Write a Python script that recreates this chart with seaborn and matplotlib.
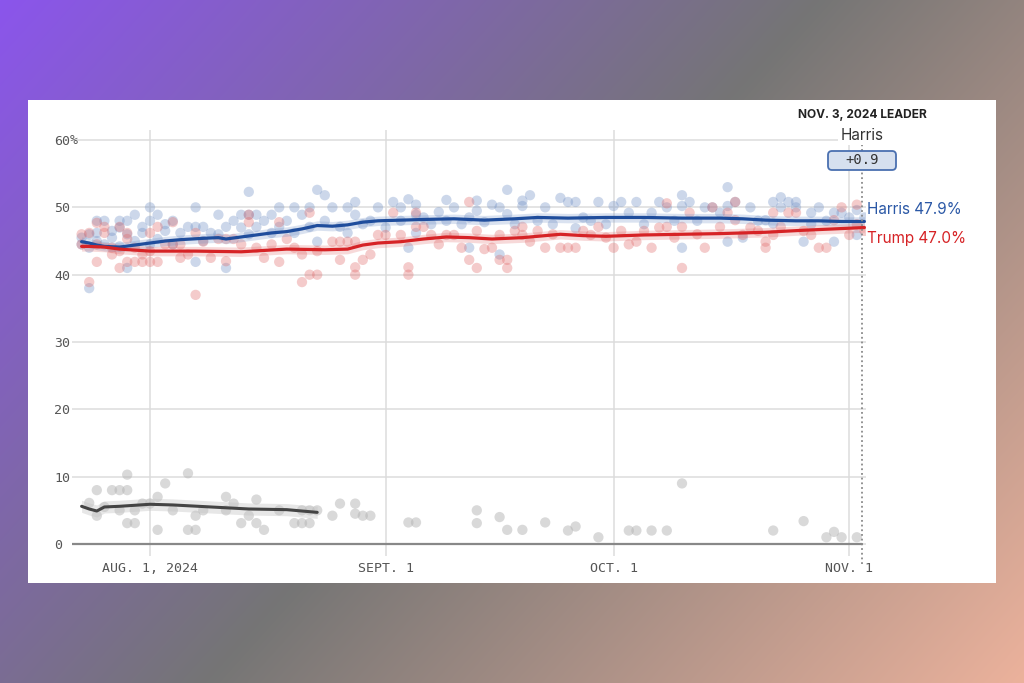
import numpy as np
import pandas as pd
import matplotlib
matplotlib.use("Agg")
import matplotlib.pyplot as plt
import seaborn as sns
from matplotlib.patches import Rectangle, FancyBboxPatch

# ---------------- data (x = days since Aug. 1, 2024) ----------------
harris_polls = [
    (-9, 44.5), (-9, 45.5), (-8, 38.0), (-8, 46.0), (-8, 44.0), (-7, 48.0), (-7, 45.0), (-7, 46.2),
    (-6, 48.0), (-6, 44.5), (-5, 45.5), (-5, 46.5), (-4, 48.0), (-4, 47.0), (-4, 44.2), (-3, 48.0),
    (-3, 41.0), (-3, 46.0), (-2, 48.9), (-2, 45.0), (-1, 47.1), (-1, 46.2), (0, 50.0), (0, 48.0),
    (0, 44.5), (1, 48.9), (1, 45.3), (2, 46.5), (2, 47.5), (3, 48.0), (3, 44.5), (4, 46.2), (5, 47.1),
    (6, 50.0), (6, 47.1), (6, 41.9), (7, 47.1), (7, 45.0), (8, 46.2), (9, 48.9), (9, 46.0), (10, 41.0),
    (10, 47.1), (11, 48.0), (12, 48.9), (12, 47.0), (13, 52.3), (13, 48.9), (13, 46.0), (14, 48.9),
    (14, 47.1), (15, 48.0), (16, 46.2), (16, 48.9), (17, 50.0), (17, 47.1), (18, 48.0), (19, 50.0),
    (19, 46.2), (20, 48.9), (21, 50.0), (21, 47.1), (22, 52.6), (22, 44.9), (23, 51.8), (23, 48.0),
    (24, 50.0), (25, 47.1), (26, 50.0), (26, 46.2), (27, 50.8), (27, 48.9), (28, 47.5), (29, 48.0),
    (30, 50.0), (31, 47.0), (32, 50.8), (33, 50.0), (33, 48.0), (34, 51.2), (34, 44.0), (35, 50.4),
    (35, 48.9), (35, 46.2), (36, 48.5), (37, 47.5), (38, 49.3), (39, 51.1), (39, 48.0), (40, 50.0),
    (41, 47.5), (42, 44.0), (42, 48.5), (43, 51.0), (43, 49.5), (44, 47.8), (45, 50.4), (46, 50.0),
    (46, 43.0), (47, 52.6), (47, 49.0), (48, 47.5), (49, 51.0), (49, 50.2), (50, 51.8), (51, 48.0),
    (52, 50.0), (53, 47.5), (54, 51.4), (55, 50.8), (56, 50.8), (56, 46.9), (57, 48.5), (58, 48.0),
    (59, 50.8), (60, 47.5), (61, 50.2), (62, 50.8), (63, 49.2), (64, 50.8), (65, 47.5), (66, 49.2),
    (67, 50.8), (68, 50.0), (69, 48.0), (70, 51.8), (70, 50.2), (70, 44.0), (71, 50.8), (72, 48.0),
    (73, 50.0), (74, 50.0), (75, 49.2), (76, 53.0), (76, 50.2), (76, 44.9), (77, 50.8), (78, 45.5),
    (79, 50.0), (80, 48.0), (81, 48.1), (82, 50.8), (82, 47.6), (83, 51.5), (83, 50.0), (84, 50.8),
    (85, 50.8), (85, 50.0), (86, 44.9), (87, 49.2), (87, 47.5), (88, 50.0), (89, 48.0), (90, 49.2),
    (90, 44.9), (91, 49.2), (92, 48.5), (93, 49.6), (93, 45.9), (94, 48.5),
]

trump_polls = [
    (-9, 46.0), (-9, 44.5), (-8, 38.9), (-8, 46.2), (-7, 47.7), (-7, 41.9), (-7, 44.5), (-6, 47.1),
    (-6, 46.2), (-5, 44.0), (-5, 43.0), (-4, 41.0), (-4, 47.1), (-4, 43.5), (-3, 46.2), (-3, 45.3),
    (-3, 41.9), (-2, 41.9), (-2, 44.0), (-1, 41.9), (-1, 43.0), (0, 46.2), (0, 41.9), (0, 43.5),
    (1, 47.1), (1, 41.9), (2, 44.5), (3, 47.8), (3, 44.5), (4, 44.5), (4, 42.5), (5, 43.0), (6, 37.0),
    (6, 46.2), (7, 44.9), (8, 42.5), (9, 45.3), (10, 45.3), (10, 42.0), (11, 45.3), (12, 44.5),
    (13, 48.9), (13, 47.8), (14, 44.0), (15, 42.5), (16, 44.5), (17, 47.8), (17, 41.9), (18, 45.3),
    (19, 44.0), (20, 38.9), (20, 43.0), (21, 40.0), (21, 49.2), (22, 40.0), (22, 43.5), (24, 44.9),
    (25, 44.9), (25, 42.2), (26, 44.9), (27, 41.1), (27, 40.0), (27, 44.9), (28, 42.2), (29, 43.0),
    (30, 45.9), (31, 45.9), (32, 49.2), (33, 45.9), (34, 41.1), (34, 40.0), (35, 49.2), (35, 47.1),
    (36, 47.1), (37, 45.9), (38, 44.5), (39, 45.9), (40, 45.9), (41, 44.0), (42, 50.8), (42, 42.2),
    (43, 41.0), (43, 46.5), (44, 43.8), (45, 44.0), (46, 45.9), (46, 42.2), (47, 41.0), (47, 42.2),
    (48, 46.5), (49, 47.1), (49, 45.9), (50, 44.9), (51, 46.5), (52, 44.0), (53, 46.0), (54, 44.0),
    (55, 44.0), (56, 44.0), (57, 46.5), (58, 45.9), (59, 47.1), (60, 45.5), (61, 44.0), (62, 46.5),
    (63, 44.5), (64, 44.9), (65, 46.5), (66, 44.0), (67, 47.0), (68, 50.6), (68, 47.1), (69, 45.5),
    (70, 47.1), (70, 41.0), (71, 49.2), (72, 46.0), (73, 44.0), (74, 50.0), (75, 47.1), (76, 49.2),
    (77, 50.8), (77, 48.1), (78, 45.9), (79, 47.0), (80, 46.5), (81, 44.9), (81, 44.0), (82, 49.2),
    (82, 45.9), (83, 47.1), (84, 49.2), (85, 49.2), (86, 46.5), (87, 45.9), (88, 44.0), (89, 44.0),
    (90, 48.1), (91, 50.0), (92, 45.9), (93, 50.4), (93, 47.5), (94, 46.5),
]

other_polls = [
    (-8, 6.1), (-7, 8.0), (-7, 4.2), (-6, 5.5), (-5, 8.0), (-4, 8.0), (-4, 5.0), (-3, 8.0), (-3, 10.3),
    (-3, 3.1), (-2, 3.1), (-2, 5.0), (-1, 6.0), (0, 6.0), (1, 7.0), (1, 2.1), (2, 9.0), (3, 5.0),
    (5, 10.5), (5, 2.1), (6, 2.1), (6, 4.2), (7, 5.0), (10, 7.0), (10, 5.0), (11, 6.0), (12, 3.1),
    (13, 4.2), (14, 6.6), (14, 3.1), (15, 2.1), (17, 5.0), (19, 3.1), (20, 3.1), (20, 5.0), (21, 3.1),
    (21, 5.0), (22, 5.0), (24, 4.2), (25, 6.0), (27, 6.0), (27, 4.5), (28, 4.2), (29, 4.2), (34, 3.2),
    (35, 3.2), (43, 5.0), (43, 3.1), (46, 4.0), (47, 2.1), (49, 2.1), (52, 3.2), (55, 2.0), (56, 2.6),
    (59, 1.0), (63, 2.0), (64, 2.0), (66, 2.0), (68, 2.0), (70, 9.0), (82, 2.0), (86, 3.4), (89, 1.0),
    (90, 1.8), (91, 1.0), (93, 1.0),
]

harris_trend_days = [-9, -8, -7, -6, -4, -2, 0, 2, 4, 7, 9, 10, 12, 14, 16, 18, 20, 22, 24, 26, 28,
                     30, 33, 36, 40, 44, 48, 51, 55, 60, 65, 70, 75, 78, 81, 85, 88, 91, 94]
harris_trend = [44.9, 44.7, 44.4, 44.2, 44.1, 44.4, 44.7, 45.0, 45.2, 45.4, 45.5, 45.3, 45.6, 45.9,
                46.2, 46.4, 46.8, 47.3, 47.2, 47.4, 47.8, 48.0, 48.1, 48.2, 48.3, 48.1, 48.3, 48.5,
                48.4, 48.5, 48.5, 48.4, 48.4, 48.3, 48.1, 48.0, 48.0, 47.9, 47.9]

trump_trend_days = [-9, -8, -6, -4, 0, 6, 12, 18, 23, 26, 28, 30, 33, 36, 39, 42, 45, 49, 54, 57,
                    60, 65, 70, 75, 81, 86, 90, 94]
trump_trend = [44.2, 44.2, 44.1, 43.8, 43.5, 43.5, 43.4, 43.8, 43.7, 43.8, 44.4, 44.7, 44.9, 45.3,
               45.6, 45.5, 45.3, 45.5, 46.0, 45.8, 45.7, 45.9, 46.0, 46.1, 46.3, 46.6, 46.8, 47.0]

other_trend_days = [-9, -8, -7, -6, -4, 0, 3, 8, 13, 18, 22]
other_trend = [5.6, 5.2, 4.9, 5.5, 5.6, 5.9, 5.8, 5.5, 5.2, 5.1, 4.7]

tick_days = [0, 31, 61, 92]
tick_labels = ["AUG. 1, 2024", "SEPT. 1", "OCT. 1", "NOV. 1"]
y_ticks = [0, 10, 20, 30, 40, 50, 60]
leader_day = 94
leader_title = "NOV. 3, 2024 LEADER"
leader_name = "Harris"
leader_margin = "+0.9"
harris_final = 47.9
trump_final = 47.0

# ---------------- styling ----------------
sns.set_theme(style="white")
plt.rcParams['font.family'] = ['Inter', 'DejaVu Sans']

W, H = 1024, 683
fig = plt.figure(figsize=(W / 100, H / 100), dpi=100)

def frect(x0, y0, x1, y1):
    return [x0 / W, 1 - y1 / H, (x1 - x0) / W, (y1 - y0) / H]

# gradient background + white card
bg = fig.add_axes([0, 0, 1, 1], zorder=0)
yy, xx = np.mgrid[0:H, 0:W]
t = (xx * 683 + yy * 614) / (1024 * 683 + 683 * 614)
stops = [0.0, 0.5, 1.0]
cols = np.array([[139, 85, 236], [117, 117, 117], [236, 178, 156]]) / 255
img = np.stack([np.interp(t, stops, cols[:, i]) for i in range(3)], axis=-1)
bg.imshow(img, extent=[0, W, H, 0], aspect='auto')
bg.set_xlim(0, W)
bg.set_ylim(H, 0)
bg.axis('off')
bg.add_patch(Rectangle((28, 100), 968, 483, facecolor='white', edgecolor='none'))

# main plot axes
ax = fig.add_axes(frect(72, 130, 866, 556), zorder=2)
ax.set_facecolor('none')

BLUE_DOT, RED_DOT, GRAY_DOT = "#6f8fc4", "#e06a6a", "#b4b4b4"
BLUE_LINE, RED_LINE, GRAY_LINE = "#1f4d9c", "#d62326", "#444444"

h_df = pd.DataFrame(harris_polls, columns=["day", "pct"])
t_df = pd.DataFrame(trump_polls, columns=["day", "pct"])
o_df = pd.DataFrame(other_polls, columns=["day", "pct"])

sns.scatterplot(data=o_df, x="day", y="pct", ax=ax, color=GRAY_DOT, alpha=0.5, s=55,
                edgecolor='none', zorder=3)
sns.scatterplot(data=h_df, x="day", y="pct", ax=ax, color=BLUE_DOT, alpha=0.35, s=55,
                edgecolor='none', zorder=3)
sns.scatterplot(data=t_df, x="day", y="pct", ax=ax, color=RED_DOT, alpha=0.35, s=55,
                edgecolor='none', zorder=3)

ht = np.array(harris_trend)
tt = np.array(trump_trend)
ot = np.array(other_trend)
ax.fill_between(harris_trend_days, ht - 0.7, ht + 0.7, color=BLUE_DOT, alpha=0.25, lw=0, zorder=4)
ax.fill_between(trump_trend_days, tt - 0.7, tt + 0.7, color=RED_DOT, alpha=0.25, lw=0, zorder=4)
ax.fill_between(other_trend_days, ot - 0.9, ot + 0.9, color="#c4c4c4", alpha=0.4, lw=0, zorder=4)

sns.lineplot(x=harris_trend_days, y=harris_trend, ax=ax, color=BLUE_LINE, lw=2.3, zorder=5)
sns.lineplot(x=trump_trend_days, y=trump_trend, ax=ax, color=RED_LINE, lw=2.3, zorder=5)
sns.lineplot(x=other_trend_days, y=other_trend, ax=ax, color=GRAY_LINE, lw=2.2, zorder=5)

# axes scales
ax.set_xlim((72 - 150) / 7.6, (866 - 150) / 7.6)
ax.set_ylim((544 - 556) / 6.733, (544 - 130) / 6.733)
for s in ax.spines.values():
    s.set_visible(False)

ax.set_xticks(tick_days)
ax.set_xticklabels(tick_labels)
ax.set_yticks(y_ticks)
ax.set_yticklabels([str(v) for v in y_ticks])
ax.set_xlabel("")
ax.set_ylabel("")
ax.grid(True, color="#dcdcdc", lw=1.1, zorder=0)
ax.set_axisbelow(True)
ax.tick_params(axis='both', length=0, labelcolor="#555555", labelsize=9.5)
ax.tick_params(axis='x', pad=4)
ax.tick_params(axis='y', pad=13)
for lab in ax.get_xticklabels() + ax.get_yticklabels():
    lab.set_family('DejaVu Sans Mono')
for lab in ax.get_yticklabels():
    lab.set_horizontalalignment('left')
# "%" unit right after the top tick label
ax.text((70 - 72) / 794, 60, "%", transform=ax.get_yaxis_transform(), fontsize=9.5,
        family='DejaVu Sans Mono', color="#555555", ha='left', va='center', clip_on=False)

ax.axhline(0, xmin=0, xmax=(862 - 72) / 794, color="#888888", lw=1.6, zorder=2)
ax.axvline(leader_day - 0.25, ymin=-0.018, ymax=0.965, color="#8a8a8a", lw=1.3,
           ls=(0, (1, 1.6)), clip_on=False, zorder=6)

# right-hand labels
ax.text(leader_day + 0.3, harris_final + 1.85, f"Harris {harris_final:.1f}%", color="#2b58a6",
        fontsize=11, ha='left', va='center', clip_on=False)
ax.text(leader_day + 0.3, trump_final - 1.6, f"Trump {trump_final:.1f}%", color="#d62326",
        fontsize=11, ha='left', va='center', clip_on=False)

# leader annotation on an overlay (figure pixel coordinates)
ov = fig.add_axes([0, 0, 1, 1], zorder=10)
ov.set_xlim(0, W)
ov.set_ylim(H, 0)
ov.axis('off')
ov.patch.set_alpha(0)
ov.text(862, 115, leader_title, fontsize=8.6, fontweight='bold', color="#222222",
        ha='center', va='center')
ov.text(862, 135, leader_name, fontsize=11, color="#333333", ha='center', va='center',
        bbox=dict(boxstyle='square,pad=0.15', fc='white', ec='none'))
ov.add_patch(FancyBboxPatch((828, 151), 68, 19, boxstyle='round,pad=0,rounding_size=4',
                            facecolor="#d6e0ef", edgecolor="#4a70b0", lw=1.3))
ov.text(862, 160.5, leader_margin, fontsize=10, family='DejaVu Sans Mono', color="#333333",
        ha='center', va='center')

fig.savefig("out.png", dpi=100)
